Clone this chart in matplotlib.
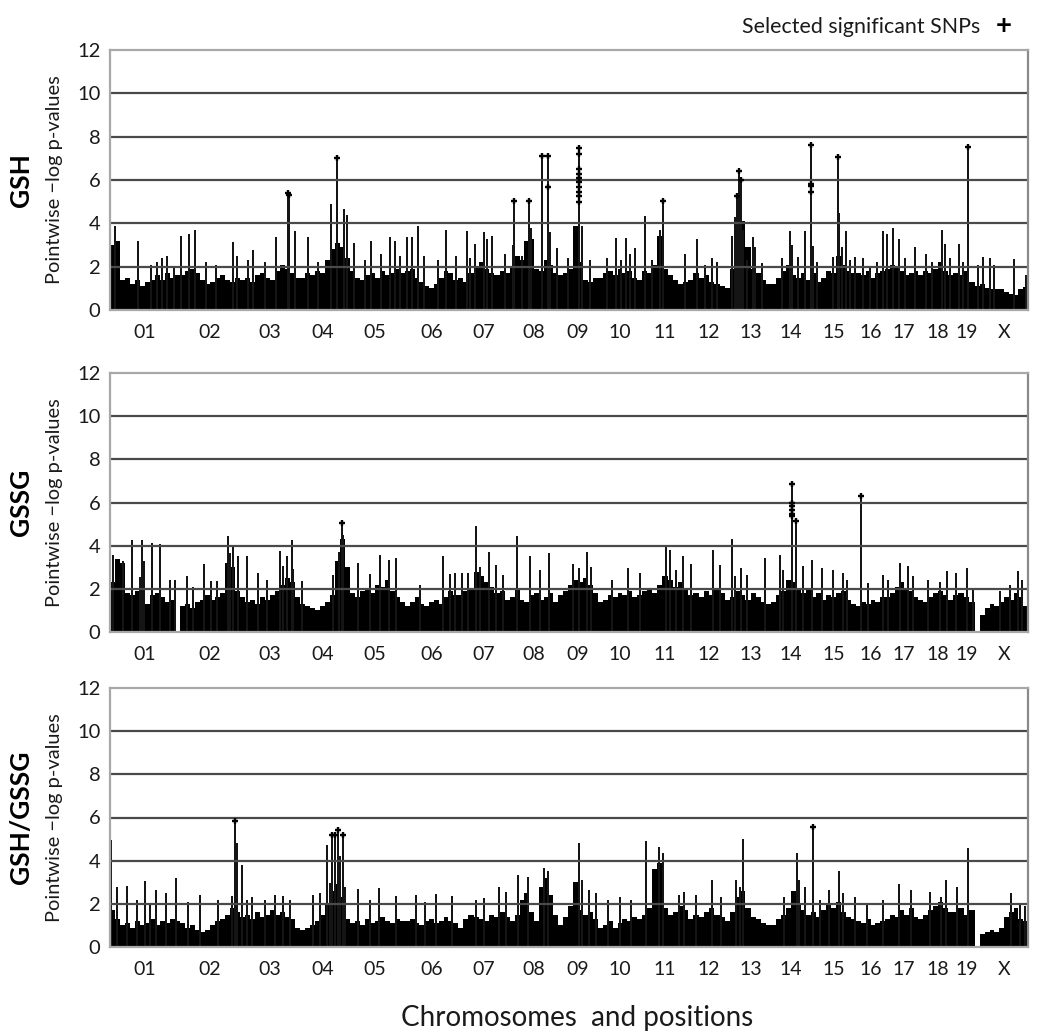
import matplotlib
matplotlib.use('Agg')
import matplotlib.pyplot as plt
import numpy as np

plt.rcParams['font.family'] = ['Lato', 'DejaVu Sans']

# ---------------- data ----------------
chromosomes = ['01', '02', '03', '04', '05', '06', '07', '08', '09', '10',
               '11', '12', '13', '14', '15', '16', '17', '18', '19', 'X']
# marker span of each chromosome along the x axis (cumulative position units)
chrom_sizes = [70, 60, 60, 45, 60, 53, 52, 48, 40, 44, 46, 42, 41, 40, 45, 29, 38, 30, 27, 48]

panel_names = ['GSH', 'GSSG', 'GSH/GSSG']
y_ticks = [0, 2, 4, 6, 8, 10, 12]

# dense background -log p level, binned along each chromosome
gsh_base = [
    [3.0, 3.2, 1.4, 1.5, 1.2, 1.4, 1.1, 1.3, 1.4, 1.6, 1.4, 1.7, 1.5, 1.6],
    [1.6, 1.8, 1.9, 1.7, 1.4, 1.2, 1.3, 1.5, 1.6, 1.4, 1.3, 1.5],
    [1.4, 1.5, 1.3, 1.6, 1.7, 1.5, 1.4, 1.8, 2.1, 1.9, 1.7, 1.5],
    [1.5, 1.7, 1.6, 1.8, 1.7, 2.3, 2.8, 3.1, 2.9],
    [2.4, 1.8, 1.5, 1.4, 1.6, 1.7, 1.5, 1.8, 1.6, 1.7, 1.9, 1.7],
    [1.8, 1.9, 1.5, 1.3, 1.1, 1.0, 1.2, 1.5, 1.8, 1.7, 1.4],
    [1.5, 1.3, 1.7, 2.0, 2.2, 1.9, 1.7, 1.6, 1.8, 1.7],
    [2.0, 2.5, 2.3, 3.2, 3.3, 1.9, 1.8, 2.3, 2.1, 1.7],
    [1.6, 1.7, 1.9, 3.9, 2.2, 1.4, 1.3, 1.5],
    [1.5, 1.7, 1.8, 1.6, 1.9, 1.7, 1.8, 1.5, 1.4],
    [1.8, 1.7, 2.1, 3.4, 1.9, 1.6, 1.4, 1.2, 1.3],
    [1.4, 1.7, 1.5, 1.6, 1.3, 1.2, 1.1, 1.0],
    [1.9, 3.4, 4.1, 2.9, 1.9, 1.7, 1.4, 1.2],
    [1.2, 1.5, 1.8, 2.1, 1.6, 1.5, 1.7, 1.4],
    [1.7, 1.3, 1.5, 1.8, 1.7, 2.5, 2.1, 1.8, 1.7],
    [1.7, 1.6, 1.8, 1.5, 1.7, 1.8],
    [1.9, 2.1, 2.0, 1.8, 1.6, 1.7, 1.8, 1.6],
    [1.8, 1.7, 1.9, 2.2, 1.8, 1.6],
    [1.7, 1.6, 1.8, 1.3, 1.1],
    [1.2, 1.0, 0.95, 0.95, 0.95, 0.85, 0.75, 0.7, 0.95, 1.05],
]
gssg_base = [
    [2.3, 3.4, 3.2, 1.8, 1.7, 1.9, 1.5, 1.3, 1.7, 1.8, 1.6, 1.4, 1.5, 0.0],
    [1.2, 1.3, 1.1, 1.4, 1.5, 1.7, 1.5, 1.6, 1.8, 3.2, 3.0, 1.9],
    [1.6, 1.4, 1.5, 1.3, 1.6, 1.5, 1.7, 1.9, 2.2, 2.5, 2.3, 1.6],
    [1.3, 1.2, 1.1, 1.0, 1.2, 1.4, 1.7, 3.3, 4.3],
    [3.0, 1.8, 1.6, 1.9, 2.0, 1.8, 2.2, 2.1, 2.4, 1.9, 1.6, 1.4],
    [1.2, 1.4, 1.6, 1.3, 1.2, 1.4, 1.5, 1.3, 1.6, 1.9, 1.7],
    [1.7, 1.9, 2.0, 2.8, 2.6, 2.3, 2.1, 1.8, 1.9, 1.5],
    [1.6, 2.0, 1.5, 1.4, 1.7, 1.8, 1.5, 1.6, 1.8, 1.4],
    [1.7, 1.9, 2.2, 2.4, 2.3, 2.5, 2.2, 1.8],
    [1.4, 1.5, 1.7, 1.6, 1.8, 1.7, 1.9, 1.6, 1.7],
    [1.9, 2.0, 1.8, 2.2, 2.6, 2.4, 2.1, 2.3, 2.0],
    [1.7, 1.8, 1.6, 1.9, 1.7, 2.0, 1.8, 1.5],
    [1.6, 1.9, 1.7, 1.5, 1.8, 1.6, 1.4, 1.3],
    [1.4, 1.7, 1.9, 2.4, 2.3, 2.0, 1.8, 2.0],
    [1.6, 1.8, 1.5, 1.7, 1.6, 1.8, 1.9, 1.5, 1.3],
    [1.2, 1.4, 1.3, 1.5, 1.4, 1.6],
    [1.6, 1.8, 2.1, 2.3, 2.0, 1.9, 1.6, 1.5],
    [1.4, 1.6, 1.8, 1.9, 1.7, 1.5],
    [1.7, 1.8, 1.6, 1.4, 0.0],
    [0.8, 1.1, 1.3, 1.2, 1.4, 1.6, 1.5, 1.8, 1.6, 1.2],
]
ratio_base = [
    [1.7, 1.3, 1.0, 1.1, 0.9, 1.2, 1.0, 1.1, 1.3, 1.0, 1.2, 1.1, 1.3, 1.2],
    [1.1, 0.9, 1.0, 0.8, 0.7, 0.8, 1.0, 1.2, 1.3, 1.5, 1.8, 1.6],
    [1.4, 1.5, 1.3, 1.6, 1.4, 1.5, 1.7, 1.5, 1.6, 1.4, 1.3, 0.9],
    [0.8, 0.9, 1.0, 1.2, 1.5, 2.0, 2.6, 2.9, 2.3],
    [1.3, 1.1, 1.2, 1.0, 1.3, 1.1, 1.2, 1.4, 1.2, 1.1, 1.3, 1.2],
    [1.2, 1.3, 1.1, 1.0, 1.2, 1.3, 1.1, 1.2, 1.4, 1.2, 1.1],
    [0.9, 1.3, 1.5, 1.4, 1.3, 1.2, 1.5, 1.4, 1.6, 1.4],
    [1.2, 1.5, 2.2, 2.5, 1.6, 1.2, 2.8, 3.2, 2.4, 1.5],
    [1.0, 1.4, 1.9, 3.0, 1.7, 1.5, 1.6, 1.3],
    [0.9, 1.0, 1.2, 0.9, 1.1, 1.3, 1.2, 1.4, 1.3],
    [1.5, 1.8, 3.6, 3.9, 1.8, 1.5, 1.6, 1.9, 1.7],
    [1.3, 1.5, 1.4, 1.6, 1.8, 1.5, 1.4, 1.2],
    [1.6, 2.3, 2.6, 1.8, 1.4, 1.3, 1.1, 1.0],
    [1.0, 1.3, 1.5, 1.8, 2.6, 2.0, 1.7, 1.5],
    [1.6, 1.4, 1.7, 2.0, 1.8, 2.1, 1.6, 1.4, 1.3],
    [1.2, 1.1, 1.3, 1.0, 1.1, 1.2],
    [1.3, 1.5, 1.4, 1.7, 1.5, 1.8, 1.4, 1.3],
    [1.5, 1.7, 1.9, 2.1, 1.8, 1.6],
    [1.6, 1.8, 1.5, 1.7, 0.0],
    [0.6, 0.7, 0.8, 0.7, 0.9, 1.4, 1.6, 1.8, 1.3, 1.2],
]

# individual SNPs standing out above the background: (position, -log p)
gsh_peaks = [
    (5, 3.9), (28, 3.2), (41, 2.1), (47, 2.2), (52, 2.4), (57, 2.5), (64, 2.0),
    (71, 3.4), (79, 3.5), (85, 3.7), (96, 2.2), (106, 2.1), (123, 3.15), (127, 2.5),
    (138, 2.3), (143, 2.75), (155, 2.2), (166, 3.35), (185, 3.66),
    (198, 3.35), (208, 2.2), (221, 4.9), (234, 4.65), (237, 4.4), (244, 3.1),
    (255, 2.3), (261, 3.2), (271, 2.6), (280, 3.35), (285, 3.2), (290, 2.5),
    (297, 3.35), (302, 3.35), (308, 3.9), (314, 2.5), (328, 2.3), (336, 3.7),
    (346, 2.5), (357, 3.66), (360, 2.4), (365, 3.05), (374, 3.6), (377, 3.3), (382, 3.4), (395, 2.6),
    (403, 3.0), (412, 2.5), (421, 3.8), (440, 3.6), (447, 2.85),
    (458, 2.4), (472, 3.9), (480, 2.3),
    (497, 2.4), (506, 3.34), (511, 2.3), (516, 3.34), (520, 2.6), (525, 2.86),
    (535, 4.35), (542, 2.3), (550, 3.7), (575, 2.6),
    (587, 3.26), (595, 2.1), (602, 2.4), (607, 2.2),
    (622, 3.4), (625, 4.3), (633, 3.7), (637, 2.3), (643, 3.35), (645, 2.9), (652, 2.15),
    (672, 2.4), (680, 3.66), (682, 3.0), (688, 2.45), (695, 3.66), (703, 2.95),
    (707, 2.2), (723, 2.46), (729, 4.46), (732, 2.9), (736, 3.66), (740, 2.3),
    (745, 2.46), (753, 2.4), (760, 2.0), (767, 2.2),
    (773, 3.66), (777, 3.5), (783, 3.77), (789, 3.3), (795, 2.4), (805, 2.9), (816, 2.6),
    (822, 2.2), (832, 3.7), (835, 3.05), (840, 2.4),
    (849, 3.05), (853, 2.2),
    (868, 2.1), (873, 2.46), (880, 2.4), (884, 2.1), (904, 2.35), (916, 1.6),
]
gssg_peaks = [
    (3, 3.57), (13, 3.27), (22, 4.28), (30, 2.56), (32, 4.26), (34, 3.3), (42, 4.14),
    (50, 4.1), (60, 2.4), (65, 2.4),
    (77, 2.6), (83, 2.1), (94, 3.17), (101, 2.35), (107, 2.35), (118, 4.43), (120, 3.66),
    (123, 3.97), (128, 3.5),
    (137, 3.5), (148, 2.73), (157, 2.42), (170, 3.74), (173, 3.04), (177, 3.5), (182, 4.28), (183, 2.9),
    (192, 2.35), (223, 2.65), (229, 3.7), (233, 4.5),
    (248, 3.18), (260, 2.7), (270, 3.57), (279, 3.34), (286, 3.41),
    (310, 2.18), (333, 3.52), (340, 2.7), (345, 2.75),
    (352, 2.75), (358, 2.75), (366, 4.9), (370, 3.0), (379, 3.72), (386, 3.1), (393, 2.64),
    (407, 4.45), (420, 3.52), (430, 2.87), (439, 3.67),
    (463, 3.13), (469, 2.95), (477, 3.72), (481, 3.03),
    (502, 2.4), (518, 2.95), (530, 2.72),
    (556, 3.95), (560, 3.8), (566, 2.87), (573, 3.52),
    (581, 3.15), (603, 3.8), (610, 3.1),
    (622, 4.32), (625, 2.58), (631, 2.97), (637, 2.66), (655, 3.43),
    (670, 3.58), (673, 2.89), (682, 3.2), (693, 3.04), (702, 3.35),
    (712, 2.97), (723, 2.89), (733, 2.73), (737, 2.42),
    (758, 2.27), (773, 2.66),
    (778, 2.42), (790, 3.2), (798, 3.04), (803, 2.58),
    (818, 2.42), (830, 2.3), (837, 2.81),
    (846, 2.73), (857, 2.97), (863, 2.04),
    (890, 1.9), (900, 2.2), (908, 2.81), (912, 2.42),
]
ratio_peaks = [
    (1, 4.97), (7, 2.8), (17, 2.84), (27, 2.2), (35, 3.04), (40, 2.0), (46, 2.66), (56, 2.5), (66, 3.2),
    (78, 2.1), (90, 2.42), (108, 2.2), (122, 2.35), (127, 4.82), (132, 3.81),
    (137, 2.2), (142, 2.3), (155, 2.2), (165, 2.42), (173, 2.35), (180, 2.2),
    (203, 2.42), (210, 2.5), (217, 4.74), (220, 2.97), (230, 4.2), (235, 2.8),
    (248, 2.7), (260, 2.2), (269, 2.72), (286, 2.36),
    (306, 2.4), (315, 2.1), (326, 2.44), (342, 2.36),
    (366, 2.18), (374, 2.25), (389, 2.76), (396, 2.56),
    (408, 3.34), (418, 3.26), (434, 3.64), (438, 3.5),
    (469, 4.8), (472, 3.1), (479, 2.64), (486, 2.49),
    (498, 2.18), (510, 2.33), (521, 2.18),
    (536, 4.93), (549, 4.62), (553, 4.34), (569, 2.4), (574, 2.56),
    (586, 2.4), (602, 3.1), (611, 2.33),
    (626, 3.1), (630, 2.8), (633, 5.02),
    (674, 2.33), (687, 4.34), (689, 3.1), (695, 2.8),
    (710, 2.2), (719, 2.64), (729, 3.52), (733, 2.49),
    (745, 2.33), (757, 2.02),
    (773, 2.18), (789, 2.92), (801, 2.64),
    (820, 2.56), (831, 2.3), (836, 3.1),
    (847, 2.8), (858, 4.57),
    (901, 2.49), (910, 2.02), (915, 1.9),
]

# selected significant SNPs (marked with +)
gsh_sig = [
    (178, 5.4), (179, 5.3), (227, 7.0), (404, 5.03), (419, 5.03), (432, 7.1), (438, 7.1), (438, 5.7),
    (469, 7.5), (469, 7.18), (469, 6.5), (469, 6.3), (469, 6.1), (469, 5.9), (469, 5.7),
    (469, 5.46), (469, 5.26), (469, 4.97), (553, 5.03),
    (629, 6.4), (631, 6.0), (627, 5.26), (701, 7.6), (701, 5.8), (701, 5.74), (701, 5.46),
    (728, 7.08), (858, 7.54),
]
gssg_sig = [
    (232, 5.05), (682, 6.87), (682, 6.0), (682, 5.85), (682, 5.64), (682, 5.48), (682, 5.36),
    (686, 5.13), (751, 6.29),
]
ratio_sig = [
    (125, 5.82), (222, 5.2), (225, 5.2), (228, 5.4), (233, 5.2), (703, 5.58),
]

panel_base = [gsh_base, gssg_base, ratio_base]
panel_peaks = [gsh_peaks, gssg_peaks, ratio_peaks]
panel_sig = [gsh_sig, gssg_sig, ratio_sig]

# ---------------- figure ----------------
W, H = 1050, 1031
fig = plt.figure(figsize=(W / 100, H / 100), dpi=100)

ax_left, ax_right = 110, 1028
panel_px = [(50, 310), (373, 632), (688, 947)]

starts = np.concatenate([[0], np.cumsum(chrom_sizes)[:-1]])
centers = starts + np.array(chrom_sizes) / 2.0
total = float(np.sum(chrom_sizes))

for k, (top, bot) in enumerate(panel_px):
    ax = fig.add_axes([ax_left / W, 1 - bot / H, (ax_right - ax_left) / W, (bot - top) / H])
    # background bins
    for s, size, vals in zip(starts, chrom_sizes, panel_base[k]):
        n = len(vals)
        w = size / n
        xs = s + w * (np.arange(n) + 0.5)
        ax.bar(xs, vals, width=w, color='black', linewidth=0, antialiased=False, zorder=1)
    px, ph = zip(*panel_peaks[k])
    ax.bar(px, ph, width=1.4, color='#151515', linewidth=0, zorder=1)
    gx, gh = zip(*panel_sig[k])
    ax.bar(gx, gh, width=1.4, color='#151515', linewidth=0, zorder=1)
    ax.plot(gx, gh, linestyle='none', marker='+', markersize=5, markeredgewidth=1.7,
            color='black', zorder=5)

    for yv in y_ticks[1:-1]:
        ax.axhline(yv, color='#4a4a4a', linewidth=1.6, zorder=3)

    ax.set_xlim(0, total)
    ax.set_ylim(0, 12)
    ax.set_yticks(y_ticks)
    ax.set_yticklabels([str(v) for v in y_ticks], fontsize=14.5, color='#1a1a1a')
    ax.set_xticks(centers)
    ax.set_xticklabels(chromosomes, fontsize=14, color='#1a1a1a')
    ax.tick_params(axis='both', length=0)
    ax.tick_params(axis='y', pad=7)
    ax.tick_params(axis='x', pad=10)
    for side in ['left', 'top', 'bottom']:
        ax.spines[side].set_color('#a8a8a8')
        ax.spines[side].set_linewidth(1.6)
    ax.spines['right'].set_color('#8a8a8a')
    ax.spines['right'].set_linewidth(1.6)
    for sp in ax.spines.values():
        sp.set_zorder(4)

    ymid = 1 - (top + bot) / 2 / H
    fig.text(55 / W, ymid, 'Pointwise \u2212log p-values', rotation=90, ha='center', va='center',
             fontsize=14.4, color='#1a1a1a')
    fig.text(21 / W, ymid, panel_names[k], rotation=90, ha='center', va='center',
             fontsize=19, fontweight='bold', color='black')

fig.text(577 / W, 1 - 1026 / H, 'Chromosomes  and positions', ha='center', va='baseline',
         fontsize=20, color='#1a1a1a')
fig.text(980 / W, 1 - 33 / H, 'Selected significant SNPs', ha='right', va='baseline',
         fontsize=15.4, color='#1a1a1a')
fig.text(1004 / W, 1 - 26 / H, '+', ha='center', va='center', fontsize=20,
         fontweight='bold', color='black')

fig.savefig('out.png', dpi=100)
